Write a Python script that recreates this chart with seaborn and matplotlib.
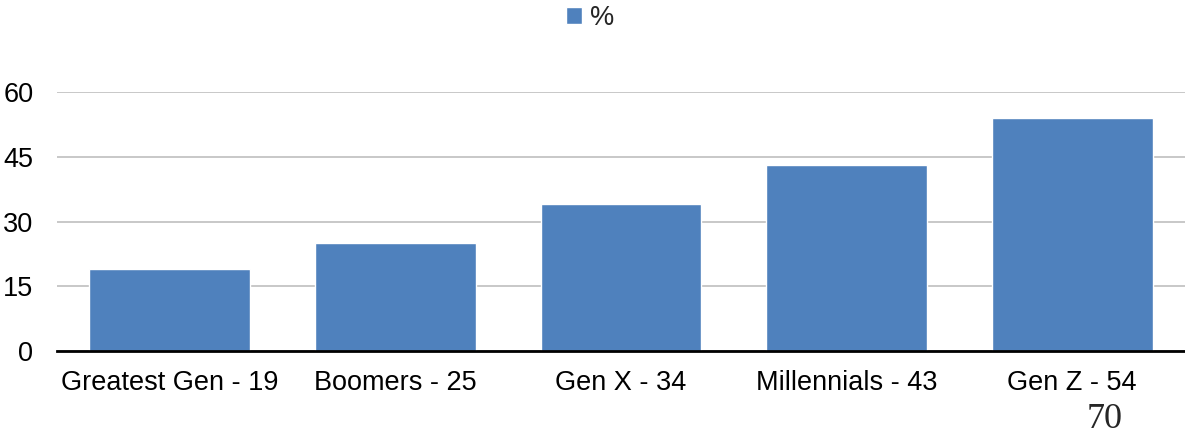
import seaborn as sns
import pandas as pd
import matplotlib.pyplot as plt

sns.set_theme(style="white")
plt.rcParams['font.family'] = ['Liberation Sans', 'DejaVu Sans']

categories = ["Greatest Gen - 19", "Boomers - 25", "Gen X - 34", "Millennials - 43", "Gen Z - 54"]
values = [19, 25, 34, 43, 54]
yticks = [0, 15, 30, 45, 60]

df = pd.DataFrame({"gen": categories, "pct": values})

fig = plt.figure(figsize=(11.85, 4.34), dpi=100)
ax = fig.add_axes([0.0481, 0.1912, 0.9519, 0.5968])

sns.barplot(data=df, x="gen", y="pct", color="#4F81BD", saturation=1,
            width=0.713, label="%", ax=ax, zorder=3)

ax.set_ylim(0, 60)
ax.set_xlim(-0.5, len(categories) - 0.5)
ax.set_yticks(yticks)
ax.yaxis.grid(True, color="#BFBFBF", linewidth=1.2, zorder=0)
ax.set_axisbelow(True)
for s in ["top", "right", "left"]:
    ax.spines[s].set_visible(False)
ax.spines["bottom"].set_color("black")
ax.spines["bottom"].set_linewidth(2)
ax.spines["bottom"].set_zorder(4)
ax.tick_params(axis="both", length=0, labelsize=19.5, colors="black")
ax.tick_params(axis="y", pad=17)
ax.tick_params(axis="x", pad=14)
ax.set_xlabel("")
ax.set_ylabel("")

ax.legend(loc="upper center", bbox_to_anchor=(0.498, 1.045), bbox_transform=fig.transFigure,
          frameon=False, fontsize=19.5, handlelength=0.6, handleheight=0.6, handletextpad=0.3)

fig.text(0.9325, -0.005, "70", family="Liberation Serif", fontsize=26, ha="center", va="bottom")

fig.savefig("out.png", dpi=100)
